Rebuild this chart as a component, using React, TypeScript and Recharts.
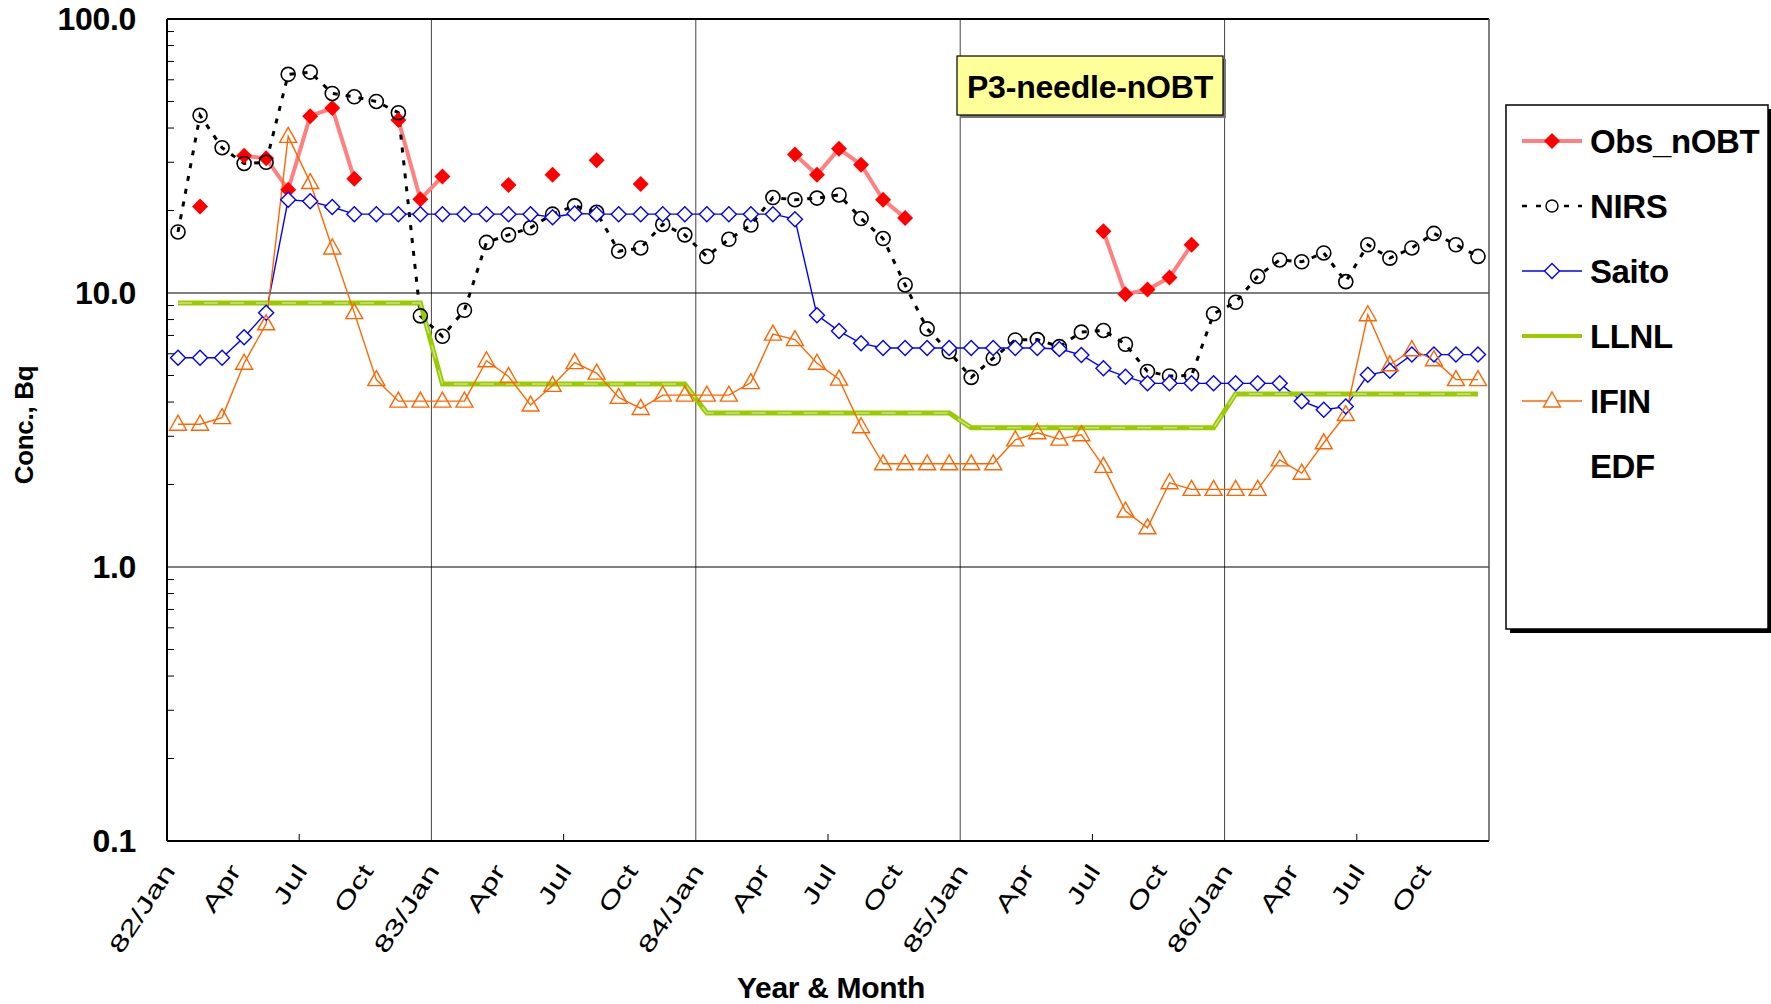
import React from 'react';
import { LineChart, Line, XAxis, YAxis, ReferenceLine } from 'recharts';

// monthly values, 82/Jan .. 86/Dec (60 months); null = no observation
const obsNOBT = [
  null, 20.7, null, 31.7, 31, 23.8, 44.2, 47.3, 26.1, null, 42.8, 22, 26.6, null, null, 24.8, null, 27, null, 30.5,
  null, 25, null, null, null, null, null, null, 32, 27, 33.6, 29.4, 21.9, 18.8, null, null, null, null, null, null,
  null, null, 16.8, 9.9, 10.3, 11.4, 15, null, null, null, null, null, null, null, null, null, null, null, null, null,
];
const nirs = [
  16.7, 44.5, 33.9, 29.7, 30, 62.8, 64, 53.5, 52, 50, 45.5, 8.25, 6.95, 8.65, 15.3, 16.3, 17.3, 19.4, 20.8, 19.7,
  14.2, 14.6, 17.8, 16.3, 13.6, 15.7, 17.7, 22.3, 21.9, 22.2, 22.8, 18.7, 15.8, 10.7, 7.4, 6.1, 4.92, 5.78, 6.74, 6.76,
  6.37, 7.2, 7.3, 6.5, 5.17, 4.98, 5.0, 8.4, 9.25, 11.5, 13.2, 13.0, 14.0, 11.0, 15.0, 13.4, 14.6, 16.5, 15.0, 13.6,
];
const saito = [
  5.8, 5.8, 5.8, 6.9, 8.47, 21.9, 21.6, 20.6, 19.4, 19.4, 19.4, 19.4, 19.4, 19.4, 19.4, 19.4, 19.4, 18.9, 19.5, 19.4,
  19.4, 19.4, 19.4, 19.4, 19.4, 19.4, 19.4, 19.4, 18.6, 8.3, 7.26, 6.55, 6.3, 6.3, 6.3, 6.3, 6.3, 6.3, 6.3, 6.3,
  6.25, 5.94, 5.31, 4.95, 4.68, 4.68, 4.68, 4.68, 4.68, 4.68, 4.68, 4.03, 3.75, 3.85, 5.03, 5.2, 5.96, 5.96, 5.96, 5.96,
];
const llnl = [
  9.2, 9.2, 9.2, 9.2, 9.2, 9.2, 9.2, 9.2, 9.2, 9.2, 9.2, 9.2, 4.65, 4.65, 4.65, 4.65, 4.65, 4.65, 4.65, 4.65,
  4.65, 4.65, 4.65, 4.65, 3.65, 3.65, 3.65, 3.65, 3.65, 3.65, 3.65, 3.65, 3.65, 3.65, 3.65, 3.65, 3.22, 3.22, 3.22, 3.22,
  3.22, 3.22, 3.22, 3.22, 3.22, 3.22, 3.22, 3.22, 4.28, 4.28, 4.28, 4.28, 4.28, 4.28, 4.28, 4.28, 4.28, 4.28, 4.28, 4.28,
];
const ifin = [
  3.32, 3.32, 3.51, 5.54, 7.72, 37.3, 25.3, 14.6, 8.48, 4.83, 4.03, 4.03, 4.03, 4.03, 5.66, 4.96, 3.9, 4.6, 5.57, 5.1,
  4.16, 3.79, 4.24, 4.24, 4.24, 4.24, 4.71, 7.08, 6.76, 5.54, 4.85, 3.25, 2.38, 2.38, 2.38, 2.38, 2.38, 2.38, 2.91, 3.09,
  2.93, 3.04, 2.33, 1.6, 1.39, 2.03, 1.92, 1.92, 1.92, 1.92, 2.46, 2.2, 2.84, 3.6, 8.33, 5.47, 6.21, 5.71, 4.83, 4.83,
];

const monthTicks = [0, 3, 6, 9, 12, 15, 18, 21, 24, 27, 30, 33, 36, 39, 42, 45, 48, 51, 54, 57];
const tickLabels = ['82/Jan', 'Apr', 'Jul', 'Oct', '83/Jan', 'Apr', 'Jul', 'Oct', '84/Jan', 'Apr', 'Jul', 'Oct',
  '85/Jan', 'Apr', 'Jul', 'Oct', '86/Jan', 'Apr', 'Jul', 'Oct'];
const yearLines = [12, 24, 36, 48];
const yMajor = [0.1, 1, 10, 100];
const yTicks = [0.1, 0.2, 0.3, 0.4, 0.5, 0.6, 0.7, 0.8, 0.9, 1, 2, 3, 4, 5, 6, 7, 8, 9, 10, 20, 30, 40, 50, 60, 70, 80, 90, 100];

const legendItems = [
  { name: 'Obs_nOBT', kind: 'obs' },
  { name: 'NIRS', kind: 'nirs' },
  { name: 'Saito', kind: 'saito' },
  { name: 'LLNL', kind: 'llnl' },
  { name: 'IFIN', kind: 'ifin' },
  { name: 'EDF', kind: 'none' },
];

const data = obsNOBT.map((v, i) => ({
  m: i + 0.5,
  obs: v,
  nirs: nirs[i],
  saito: saito[i],
  llnl: llnl[i],
  ifin: ifin[i],
}));

const FONT = '"Liberation Sans", Arial, sans-serif';
const PLOT_LEFT = 167;
const PLOT_BOTTOM = 841;

const RedDiamond = (props) => {
  const { cx, cy, index } = props;
  if (cx == null || cy == null) return <g key={index} />;
  const r = 8;
  return <polygon key={index} points={`${cx},${cy - r} ${cx + r},${cy} ${cx},${cy + r} ${cx - r},${cy}`} fill="#FF0000" />;
};

const OpenCircle = (props) => {
  const { cx, cy, index } = props;
  if (cx == null || cy == null) return <g key={index} />;
  return <circle key={index} cx={cx} cy={cy} r={7} fill="none" stroke="#000" strokeWidth={1.6} />;
};

const BlueDiamond = (props) => {
  const { cx, cy, index } = props;
  if (cx == null || cy == null) return <g key={index} />;
  const r = 7.5;
  return <polygon key={index} points={`${cx},${cy - r} ${cx + r},${cy} ${cx},${cy + r} ${cx - r},${cy}`} fill="#fff" stroke="#0000FF" strokeWidth={1.4} />;
};

const OrangeTriangle = (props) => {
  const { cx, cy, index } = props;
  if (cx == null || cy == null) return <g key={index} />;
  return <polygon key={index} points={`${cx},${cy - 9} ${cx + 8.5},${cy + 6} ${cx - 8.5},${cy + 6}`} fill="none" stroke="#FF6600" strokeWidth={1.4} />;
};

const XTick = (props) => {
  const { x, payload } = props;
  const label = tickLabels[monthTicks.indexOf(payload.value)];
  const showMark = payload.value % 6 === 0 && payload.value % 12 !== 0;
  return (
    <g>
      {showMark && <line x1={x} x2={x} y1={PLOT_BOTTOM} y2={PLOT_BOTTOM - 7} stroke="#000" strokeWidth={1} />}
      <text
        transform={`translate(${x + 9},${PLOT_BOTTOM + 30}) rotate(-57) scale(1.45,1)`}
        textAnchor="end"
        fontSize={23}
        fontFamily={FONT}
        fill="#000"
      >
        {label}
      </text>
    </g>
  );
};

const YTick = (props) => {
  const { y, payload } = props;
  const v = payload.value;
  if (yMajor.includes(v)) {
    return (
      <text x={PLOT_LEFT - 31} y={y} dy={11} textAnchor="end" fontSize={32} fontWeight="bold" fontFamily={FONT} letterSpacing={-0.3} fill="#000">
        {v.toFixed(1)}
      </text>
    );
  }
  return <line x1={PLOT_LEFT} x2={PLOT_LEFT + 7} y1={y} y2={y} stroke="#000" strokeWidth={1} />;
};

const LegendSample = ({ kind, cx, cy }) => {
  if (kind === 'obs') {
    return (
      <g>
        <line x1={cx - 30} x2={cx + 30} y1={cy} y2={cy} stroke="#FF8080" strokeWidth={4} />
        <RedDiamond cx={cx} cy={cy} index={0} />
      </g>
    );
  }
  if (kind === 'nirs') {
    return (
      <g>
        <line x1={cx - 30} x2={cx + 30} y1={cy} y2={cy} stroke="#000" strokeWidth={2.5} strokeDasharray="5 9" />
        <circle cx={cx} cy={cy} r={6} fill="#fff" stroke="#000" strokeWidth={1.4} />
      </g>
    );
  }
  if (kind === 'saito') {
    return (
      <g>
        <line x1={cx - 30} x2={cx + 30} y1={cy} y2={cy} stroke="#0000FF" strokeWidth={1.4} />
        <BlueDiamond cx={cx} cy={cy} index={0} />
      </g>
    );
  }
  if (kind === 'llnl') {
    return <line x1={cx - 30} x2={cx + 30} y1={cy} y2={cy} stroke="#99CC00" strokeWidth={4} />;
  }
  if (kind === 'ifin') {
    return (
      <g>
        <line x1={cx - 30} x2={cx + 30} y1={cy} y2={cy} stroke="#FF6600" strokeWidth={1.4} />
        <polygon points={`${cx},${cy - 9} ${cx + 8.5},${cy + 6} ${cx - 8.5},${cy + 6}`} fill="#fff" stroke="#FF6600" strokeWidth={1.4} />
      </g>
    );
  }
  return null;
};

const Overlay = () => (
  <svg width={1771} height={1004} style={{ position: 'absolute', left: 0, top: 0, pointerEvents: 'none' }}>
    {/* title box */}
    <rect x={960} y={59} width={266} height={59} fill="#777" />
    <rect x={957} y={56} width={266} height={59} fill="#FFFF99" stroke="#000" strokeWidth={1.2} />
    <text x={1090} y={98} textAnchor="middle" fontSize={32} fontWeight="bold" fontFamily={FONT} letterSpacing={-0.2} fill="#000">
      P3-needle-nOBT
    </text>
    {/* legend */}
    <rect x={1510} y={109} width={262} height={524} fill="#000" />
    <rect x={1506} y={105} width={262} height={524} fill="#fff" stroke="#000" strokeWidth={1.5} />
    {legendItems.map((it, i) => {
      const cy = 141 + i * 65;
      return (
        <g key={it.name}>
          <LegendSample kind={it.kind} cx={1552} cy={cy} />
          <text x={1590} y={cy + 12} fontSize={33} fontWeight="bold" fontFamily={FONT} letterSpacing={-0.4} fill="#000">
            {it.name}
          </text>
        </g>
      );
    })}
    {/* axis titles */}
    <text transform="translate(33,425) rotate(-90)" textAnchor="middle" fontSize={26} fontWeight="bold" fontFamily={FONT} letterSpacing={-0.3} fill="#000">
      Conc., Bq
    </text>
    <text x={831} y={998} textAnchor="middle" fontSize={30} fontWeight="bold" fontFamily={FONT} letterSpacing={-0.3} fill="#000">
      Year &amp; Month
    </text>
  </svg>
);

export default function App() {
  return (
    <div style={{ position: 'absolute', left: 0, top: 0, width: 1771, height: 1004, background: '#fff' }}>
      <LineChart width={1771} height={1004} data={data} margin={{ top: 19, right: 282, left: 0, bottom: 63 }}>
        <XAxis
          type="number"
          dataKey="m"
          domain={[0, 60]}
          ticks={monthTicks}
          interval={0}
          tick={<XTick />}
          tickLine={false}
          axisLine={{ stroke: '#000', strokeWidth: 2 }}
          height={100}
        />
        <YAxis
          scale="log"
          domain={[0.1, 100]}
          ticks={yTicks}
          interval={0}
          allowDataOverflow
          tick={<YTick />}
          tickLine={false}
          axisLine={{ stroke: '#000', strokeWidth: 2 }}
          width={167}
        />
        {yearLines.map((x) => (
          <ReferenceLine key={x} x={x} stroke="#444" strokeWidth={1} />
        ))}
        <ReferenceLine y={10} stroke="#000" strokeWidth={1} />
        <ReferenceLine y={1} stroke="#000" strokeWidth={1} />
        <ReferenceLine y={100} stroke="#000" strokeWidth={2} />
        <ReferenceLine x={60} stroke="#555" strokeWidth={1.5} />
        <Line dataKey="obs" stroke="#FF8080" strokeWidth={4} dot={RedDiamond} connectNulls={false} isAnimationActive={false} />
        <Line dataKey="nirs" stroke="#000" strokeWidth={3} strokeDasharray="5 8" dot={OpenCircle} isAnimationActive={false} />
        <Line dataKey="saito" stroke="#0000FF" strokeWidth={1.4} dot={BlueDiamond} isAnimationActive={false} />
        <Line dataKey="llnl" stroke="#99CC00" strokeWidth={5} dot={false} isAnimationActive={false} />
        <Line dataKey="llnl" stroke="#C9E27A" strokeWidth={1.5} strokeDasharray="14 12" dot={false} isAnimationActive={false} />
        <Line dataKey="ifin" stroke="#FF6600" strokeWidth={1.4} dot={OrangeTriangle} isAnimationActive={false} />
      </LineChart>
      <Overlay />
    </div>
  );
}
